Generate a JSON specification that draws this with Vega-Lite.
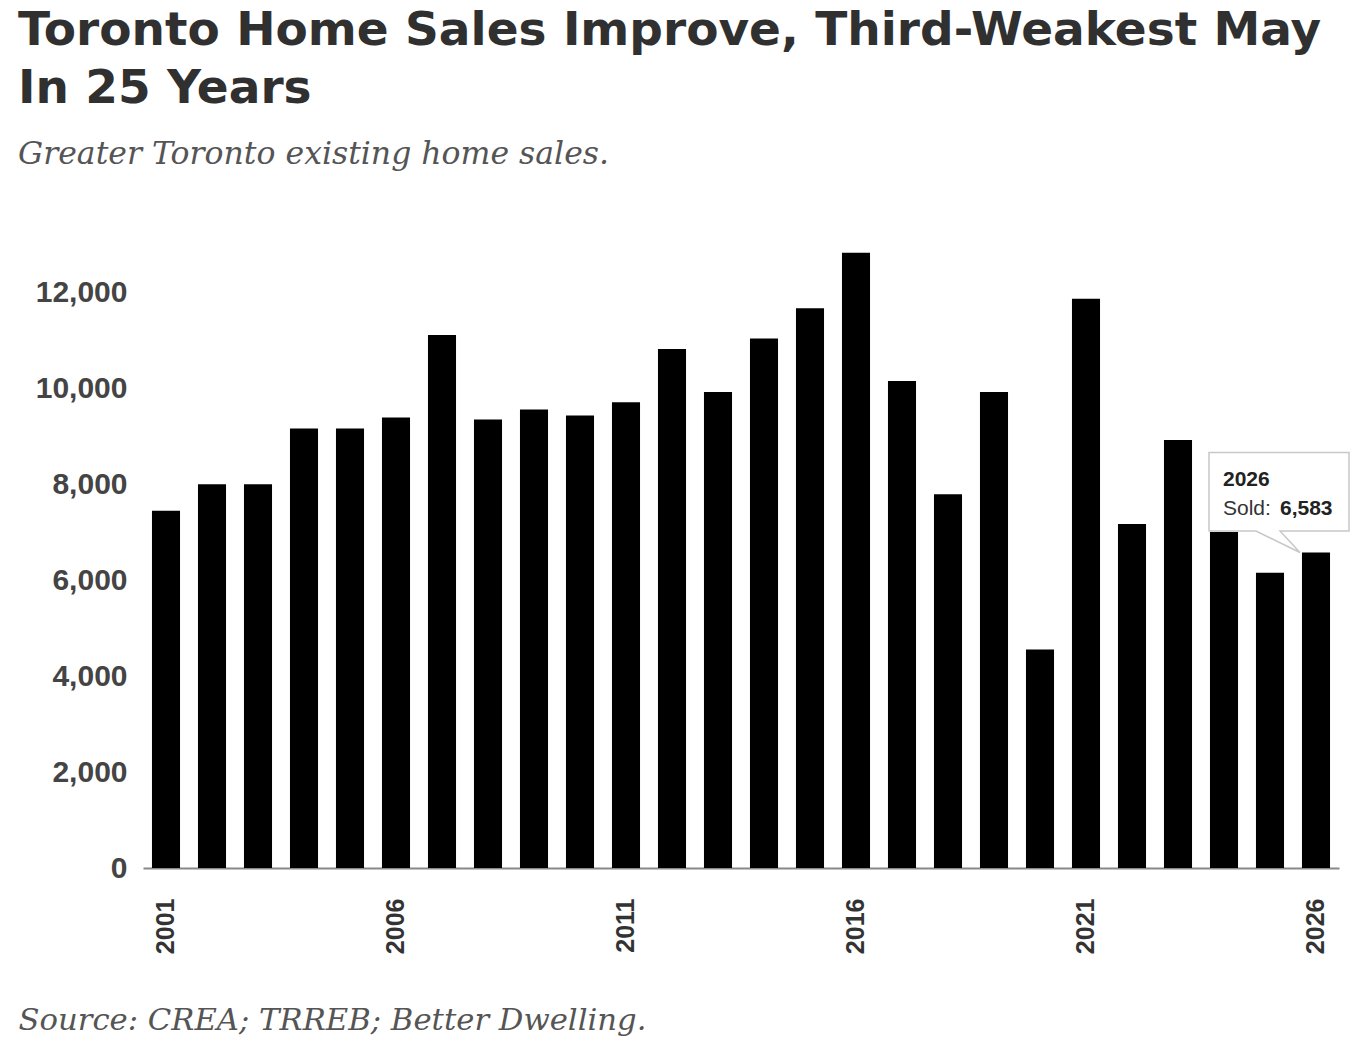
{
  "$schema": "https://vega.github.io/schema/vega-lite/v6.json",
  "width": 1196,
  "height": 623,
  "autosize": "none",
  "padding": {"left": 143, "top": 245, "right": 21, "bottom": 176},
  "background": "white",
  "title": {
    "text": ["Toronto Home Sales Improve, Third-Weakest May", "In 25 Years"],
    "subtitle": "Greater Toronto existing home sales.",
    "anchor": "start",
    "frame": "group",
    "dx": -125,
    "offset": 74,
    "font": "DejaVu Sans",
    "fontSize": 47,
    "fontWeight": "bold",
    "color": "#303030",
    "lineHeight": 58,
    "subtitleFont": "DejaVu Serif",
    "subtitleFontStyle": "italic",
    "subtitleFontSize": 31.5,
    "subtitleColor": "#555555",
    "subtitlePadding": 26
  },
  "data": {
    "values": [
      {"year": 2001, "sold": 7456},
      {"year": 2002, "sold": 8010},
      {"year": 2003, "sold": 8010},
      {"year": 2004, "sold": 9170},
      {"year": 2005, "sold": 9170},
      {"year": 2006, "sold": 9400},
      {"year": 2007, "sold": 11120},
      {"year": 2008, "sold": 9360},
      {"year": 2009, "sold": 9570},
      {"year": 2010, "sold": 9440},
      {"year": 2011, "sold": 9720},
      {"year": 2012, "sold": 10830},
      {"year": 2013, "sold": 9930},
      {"year": 2014, "sold": 11050},
      {"year": 2015, "sold": 11680},
      {"year": 2016, "sold": 12840},
      {"year": 2017, "sold": 10160},
      {"year": 2018, "sold": 7800},
      {"year": 2019, "sold": 9930},
      {"year": 2020, "sold": 4560},
      {"year": 2021, "sold": 11880},
      {"year": 2022, "sold": 7180},
      {"year": 2023, "sold": 8930},
      {"year": 2024, "sold": 7010},
      {"year": 2025, "sold": 6160},
      {"year": 2026, "sold": 6583}
    ]
  },
  "encoding": {
    "x": {
      "field": "year",
      "type": "ordinal",
      "scale": {"paddingInner": 0.39, "paddingOuter": 0.195},
      "axis": {
        "values": [2001, 2006, 2011, 2016, 2021, 2026],
        "labelAngle": 270,
        "labelFont": "Liberation Sans",
        "labelFontWeight": "bold",
        "labelFontSize": 25,
        "labelColor": "#333333",
        "labelPadding": 30,
        "ticks": false,
        "domainColor": "#888888",
        "domainWidth": 2,
        "title": "Source: CREA; TRREB; Better Dwelling.",
        "titleFont": "DejaVu Serif",
        "titleFontStyle": "italic",
        "titleFontWeight": "normal",
        "titleFontSize": 30.7,
        "titleColor": "#555555",
        "titleAlign": "left",
        "titleAnchor": "start",
        "titleBaseline": "alphabetic",
        "titleX": -125,
        "titleY": 161,
        "titleAngle": 0
      }
    },
    "y": {
      "field": "sold",
      "type": "quantitative",
      "scale": {"domain": [0, 13000], "nice": false},
      "axis": {
        "values": [0, 2000, 4000, 6000, 8000, 10000, 12000],
        "format": ",.0f",
        "labelFont": "Liberation Sans",
        "labelFontWeight": "bold",
        "labelFontSize": 30,
        "labelColor": "#444444",
        "labelPadding": 16,
        "ticks": false,
        "domain": false,
        "grid": false,
        "title": null
      }
    }
  },
  "layer": [
    {"mark": {"type": "bar", "color": "#000000"}},
    {
      "transform": [{"filter": "datum.year == 2026"}],
      "mark": {
        "type": "point",
        "shape": "M-1.07,-1.0 L0.33,-1.0 L0.33,-0.215 L-0.36,-0.215 L-0.16,0 L-0.6,-0.215 L-1.07,-0.215 Z",
        "size": 40000,
        "filled": true,
        "fill": "#ffffff",
        "stroke": "#c8c8c8",
        "strokeWidth": 1.5,
        "opacity": 1
      }
    },
    {
      "transform": [{"filter": "datum.year == 2026"}],
      "mark": {"type": "text", "align": "left", "baseline": "alphabetic", "dx": -93, "dy": -67, "font": "Liberation Sans", "fontSize": 21, "fontWeight": "bold", "color": "#222222"},
      "encoding": {"text": {"field": "year", "type": "nominal"}}
    },
    {
      "transform": [{"filter": "datum.year == 2026"}],
      "mark": {"type": "text", "text": "Sold:", "align": "left", "baseline": "alphabetic", "dx": -93, "dy": -38, "font": "Liberation Sans", "fontSize": 21, "color": "#333333"}
    },
    {
      "transform": [{"filter": "datum.year == 2026"}],
      "mark": {"type": "text", "align": "left", "baseline": "alphabetic", "dx": -36, "dy": -38, "font": "Liberation Sans", "fontSize": 21, "fontWeight": "bold", "color": "#222222"},
      "encoding": {"text": {"field": "sold", "type": "quantitative", "format": ","}}
    }
  ],
  "config": {"view": {"stroke": null}}
}
